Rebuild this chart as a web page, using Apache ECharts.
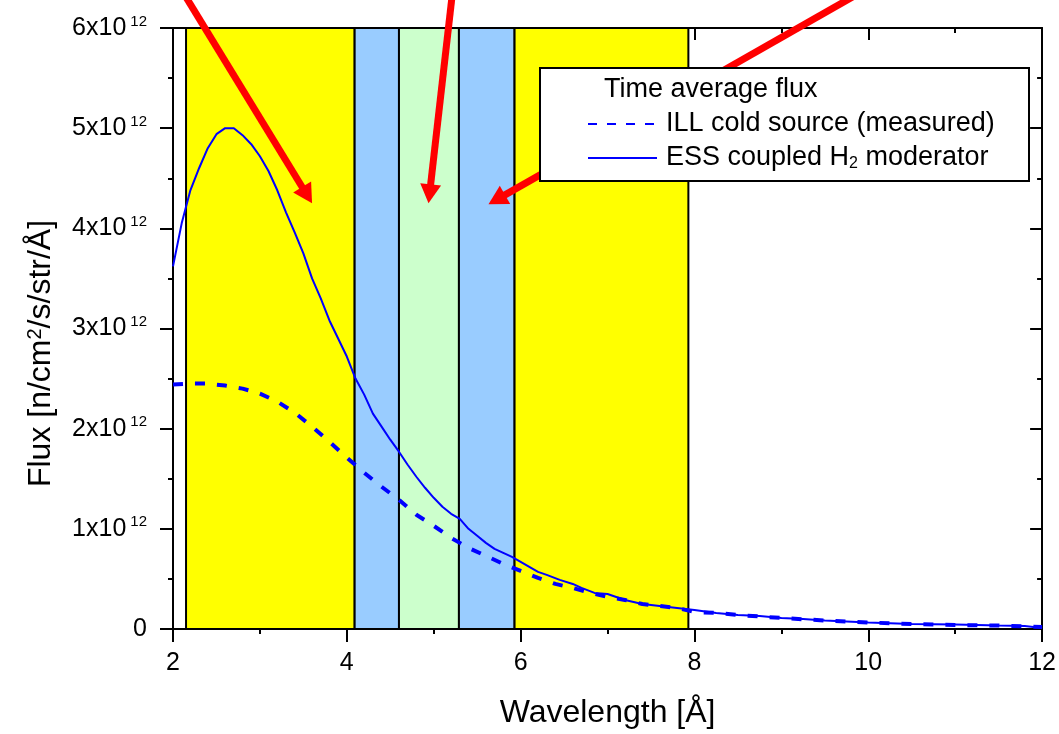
<!DOCTYPE html>
<html><head><meta charset="utf-8">
<script src="https://cdn.jsdelivr.net/npm/echarts@6/dist/echarts.min.js"></script>
<style>html,body{margin:0;padding:0;background:#fff}#c{width:1059px;height:734px}</style>
</head><body><div id="c"></div>
<script>
// ---- data (flux in units of 1e12 n/cm^2/s/str/Å) ----
const essX = [2.0,2.1,2.2,2.3,2.4,2.5,2.6,2.7,2.8,2.9,3.0,3.1,3.2,3.3,3.4,3.5,3.6,3.7,3.8,3.9,4.0,4.1,4.2,4.3,4.4,4.5,4.6,4.7,4.8,4.9,5.0,5.1,5.2,5.3,5.4,5.5,5.6,5.7,5.8,5.9,6.0,6.2,6.3,6.45,6.6,6.7,6.85,7.0,7.2,7.4,7.6,7.8,8.0,8.25,8.5,8.75,9.0,9.25,9.5,9.75,10.0,10.5,11.0,11.5,11.8,12.0];
const essY = [3.62,4.05,4.38,4.6,4.8,4.94,5.0,5.0,4.93,4.84,4.72,4.57,4.38,4.16,3.96,3.75,3.5,3.3,3.08,2.9,2.72,2.5,2.34,2.15,2.02,1.89,1.77,1.64,1.52,1.41,1.31,1.22,1.15,1.1,1.0,0.93,0.86,0.8,0.76,0.72,0.67,0.57,0.54,0.49,0.45,0.41,0.36,0.35,0.29,0.25,0.23,0.21,0.19,0.16,0.14,0.13,0.11,0.1,0.085,0.075,0.065,0.05,0.045,0.035,0.03,0.01];
const illX = [2.0,2.2,2.4,2.6,2.8,3.0,3.2,3.4,3.6,3.8,4.0,4.2,4.4,4.6,4.8,5.0,5.2,5.4,5.6,5.8,6.0,6.2,6.4,6.6,6.8,7.0,7.2,7.4,7.6,7.8,8.0,8.25,8.5,9.0,9.5,10.0,10.5,11.0,11.5,12.0];
const illY = [2.44,2.45,2.45,2.43,2.4,2.35,2.27,2.16,2.02,1.87,1.71,1.56,1.42,1.29,1.14,1.03,0.91,0.81,0.73,0.65,0.58,0.51,0.45,0.41,0.36,0.32,0.29,0.25,0.23,0.21,0.17,0.16,0.14,0.11,0.085,0.065,0.05,0.04,0.035,0.02];
const bandEdges = [2.15, 4.09, 4.6, 5.29, 5.93, 7.93];
const bandColors = ['#FFFF00', '#99CCFF', '#CCFFCC', '#99CCFF', '#FFFF00'];
const xTicks = {min: 2, max: 12, step: 2};
const yTicks = {min: 0, max: 6, step: 1};
const seriesNames = ['ILL cold source (measured)', 'ESS coupled H2 moderator'];
const legendTitle = 'Time average flux';
// annotation arrows: tail and tip points in data units
const arrowTails = [[2.12, 6.35], [5.215, 6.35], [9.9, 6.35]];
const arrowTips = [[3.6, 4.25], [4.94, 4.25], [5.63, 4.24]];

const FONT = 'Liberation Sans, Arial, sans-serif';
const zip = (xs, ys) => xs.map((x, i) => [x, ys[i]]);
const bandData = [];
for (let i = 0; i < bandColors.length; i++) {
  bandData.push([{xAxis: bandEdges[i], itemStyle: {color: bandColors[i], borderColor: '#000', borderWidth: 2, opacity: 1}}, {xAxis: bandEdges[i + 1]}]);
}
const axisLineStyle = {show: true, onZero: false, lineStyle: {color: '#000', width: 2}};
const chart = echarts.init(document.getElementById('c'));
const option = {
  animation: false,
  backgroundColor: '#fff',
  grid: {left: 173, right: 16, top: 28, bottom: 105},
  xAxis: [{
    type: 'value', position: 'bottom', min: xTicks.min, max: xTicks.max, interval: xTicks.step,
    axisLine: axisLineStyle,
    axisTick: {show: true, length: 13, lineStyle: {color: '#000', width: 2}},
    minorTick: {show: true, splitNumber: 2, length: 5, lineStyle: {color: '#000', width: 2}},
    splitLine: {show: false}, minorSplitLine: {show: false},
    axisLabel: {fontFamily: FONT, fontSize: 25, color: '#000', margin: 22},
    name: 'Wavelength [Å]', nameLocation: 'middle', nameGap: 68, nameMoveOverlap: false,
    nameTextStyle: {fontFamily: FONT, fontSize: 32, color: '#000'}
  }, {
    type: 'value', position: 'top', min: xTicks.min, max: xTicks.max, interval: xTicks.step,
    axisLine: axisLineStyle,
    axisTick: {show: true, inside: true, length: 12, lineStyle: {color: '#000', width: 2}},
    minorTick: {show: true, splitNumber: 2, length: 5, lineStyle: {color: '#000', width: 2}},
    splitLine: {show: false}, axisLabel: {show: false}
  }],
  yAxis: [{
    type: 'value', position: 'left', min: yTicks.min, max: yTicks.max, interval: yTicks.step,
    axisLine: axisLineStyle,
    axisTick: {show: true, length: 13, lineStyle: {color: '#000', width: 2}},
    minorTick: {show: true, splitNumber: 2, length: 5, lineStyle: {color: '#000', width: 2}},
    splitLine: {show: false},
    axisLabel: {
      margin: 26,
      formatter: v => v === 0 ? '{m|0}' : '{m|' + v + 'x10}{s|12}',
      rich: {
        m: {fontFamily: FONT, fontSize: 25, color: '#000', lineHeight: 28},
        s: {fontFamily: FONT, fontSize: 15, color: '#000', verticalAlign: 'top', lineHeight: 14, padding: [0, 0, 0, 4]}
      }
    },
    name: 'Flux [n/cm{sup|2}/s/str/Å]', nameLocation: 'middle', nameGap: 116,
    nameTextStyle: {fontFamily: FONT, fontSize: 32, color: '#000', padding: [0, 50, 0, 0],
      rich: {sup: {fontFamily: FONT, fontSize: 20, color: '#000', verticalAlign: 'top', lineHeight: 20}}}
  }, {
    type: 'value', position: 'right', min: yTicks.min, max: yTicks.max, interval: yTicks.step,
    axisLine: axisLineStyle,
    axisTick: {show: true, inside: true, length: 12, lineStyle: {color: '#000', width: 2}},
    minorTick: {show: true, splitNumber: 2, length: 5, lineStyle: {color: '#000', width: 2}},
    splitLine: {show: false}, axisLabel: {show: false}
  }],
  series: [{
    type: 'line', name: 'bands', data: [], z: 1, silent: true,
    markArea: {silent: true, data: bandData}
  }, {
    type: 'line', name: seriesNames[0], data: zip(illX, illY), z: 3,
    showSymbol: false, symbol: 'none',
    lineStyle: {color: '#0000FF', width: 4, type: [10, 12]}
  }, {
    type: 'line', name: seriesNames[1], data: zip(essX, essY), z: 4,
    showSymbol: false, symbol: 'none',
    lineStyle: {color: '#0000FF', width: 2}
  }]
};
chart.setOption(option);

// arrows and legend
const toPx = p => chart.convertToPixel({xAxisIndex: 0, yAxisIndex: 0}, p);
const graphics = [];
arrowTails.forEach((t, i) => {
  const a = toPx(t), b = toPx(arrowTips[i]);
  const dx = b[0] - a[0], dy = b[1] - a[1], L = Math.hypot(dx, dy);
  const ux = dx / L, uy = dy / L, hl = 19, hw = 10.5;
  const bx = b[0] - ux * hl, by = b[1] - uy * hl;
  graphics.push({type: 'line', z: 50, silent: true,
    shape: {x1: a[0], y1: a[1], x2: bx + ux * 2, y2: by + uy * 2},
    style: {stroke: '#FF0000', lineWidth: 7}});
  graphics.push({type: 'polygon', z: 50, silent: true,
    shape: {points: [[b[0], b[1]], [bx - uy * hw, by + ux * hw], [bx + uy * hw, by - ux * hw]]},
    style: {fill: '#FF0000'}});
});
const LX = 540, LY = 68, LW = 489, LH = 113;
graphics.push({type: 'rect', z: 60, silent: true, shape: {x: LX, y: LY, width: LW, height: LH},
  style: {fill: '#fff', stroke: '#000', lineWidth: 2}});
graphics.push({type: 'text', z: 61, silent: true, x: 604, y: 90,
  style: {text: legendTitle, font: '27px ' + FONT, fill: '#000', verticalAlign: 'middle'}});
graphics.push({type: 'line', z: 61, silent: true, shape: {x1: 588, y1: 124, x2: 657, y2: 124},
  style: {stroke: '#0000FF', lineWidth: 2, lineDash: [9, 10]}});
graphics.push({type: 'text', z: 61, silent: true, x: 666, y: 124,
  style: {text: seriesNames[0], font: '27px ' + FONT, fill: '#000', verticalAlign: 'middle'}});
graphics.push({type: 'line', z: 61, silent: true, shape: {x1: 588, y1: 158, x2: 657, y2: 158},
  style: {stroke: '#0000FF', lineWidth: 2}});
graphics.push({type: 'text', z: 61, silent: true, x: 666, y: 158,
  style: {text: 'ESS coupled H{sub|2} moderator', font: '27px ' + FONT, fill: '#000', verticalAlign: 'middle',
    rich: {sub: {font: '16px ' + FONT, fill: '#000', verticalAlign: 'bottom', lineHeight: 16, padding: [14, 0, 0, 0]}}}});
chart.setOption({graphic: graphics});
</script>
</body></html>
